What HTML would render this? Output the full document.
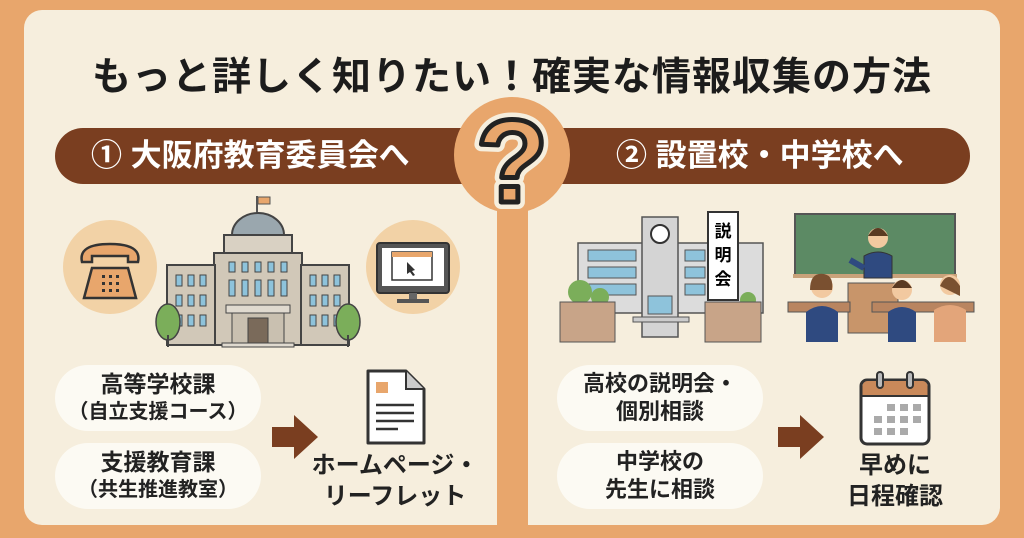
<!DOCTYPE html>
<html><head><meta charset="utf-8"><style>
*{margin:0;padding:0;box-sizing:border-box}
body{width:1024px;height:538px;background:#E8A66C;position:relative;overflow:hidden;font-family:"Liberation Sans","Noto Sans CJK JP",sans-serif;font-weight:bold}
.abs{position:absolute}
.card{left:24px;top:10px;width:976px;height:515px;background:#F6EEDD;border-radius:18px}
.div{left:497px;top:190px;width:31px;height:348px;background:#E8A66C}
.title{left:24px;top:46px;width:976px;text-align:center;font-size:39px;color:#1c1c1c;letter-spacing:1px}
.banner{height:56px;background:#7A3E20;border-radius:28px;color:#fff;font-size:31px;line-height:56px}
.pill{width:206px;height:66px;background:#FCFAF3;border-radius:33px;text-align:center;font-size:22px;color:#222;display:flex;flex-direction:column;justify-content:center;line-height:28px}
.lbl{text-align:center;font-size:24px;color:#222;line-height:31px}
</style></head><body>
<div class="abs card"></div>
<div class="abs div"></div>
<div class="abs title">もっと詳しく知りたい！確実な情報収集の方法</div>
<div class="abs banner" style="left:55px;top:128px;width:440px;padding-left:36px">① 大阪府教育委員会へ</div>
<div class="abs banner" style="left:530px;top:128px;width:440px;padding-left:86px">② 設置校・中学校へ</div>
<svg class="abs" style="left:440px;top:95px" width="150" height="125" viewBox="0 0 150 125">
<circle cx="72" cy="60" r="58" fill="#E8A66C"/>
<text x="72" y="107" text-anchor="middle" font-family="Liberation Sans" font-weight="bold" font-size="118" fill="#F6EEDD" stroke="#F6EEDD" stroke-width="14" stroke-linejoin="round">?</text>
<text x="72" y="107" text-anchor="middle" font-family="Liberation Sans" font-weight="bold" font-size="118" fill="#E8A66C" stroke="#222" stroke-width="5" stroke-linejoin="round">?</text>
</svg>
<svg class="abs" style="left:60px;top:195px" width="410" height="155" viewBox="60 195 410 155">
<circle cx="110" cy="267" r="47" fill="#F2D2A6"/>
<path d="M82 262 q-4-18 28-18 q32 0 28 18 h-10 v-6 h-36 v6z" fill="#E8A66C" stroke="#333" stroke-width="2.5"/>
<path d="M92 268 h36 l8 30 h-52z" fill="#E8A66C" stroke="#333" stroke-width="2.5"/>
<g fill="#333"><rect x="102" y="275" width="3" height="3"/><rect x="109" y="275" width="3" height="3"/><rect x="116" y="275" width="3" height="3"/><rect x="102" y="282" width="3" height="3"/><rect x="109" y="282" width="3" height="3"/><rect x="116" y="282" width="3" height="3"/><rect x="102" y="289" width="3" height="3"/><rect x="109" y="289" width="3" height="3"/><rect x="116" y="289" width="3" height="3"/></g>
<circle cx="413" cy="267" r="47" fill="#F2D2A6"/>
<rect x="377" y="243" width="72" height="50" rx="3" fill="#555" stroke="#333" stroke-width="2"/>
<rect x="382" y="248" width="62" height="38" fill="#fff"/>
<rect x="392" y="252" width="40" height="28" fill="#fff" stroke="#333" stroke-width="1.5"/>
<rect x="392" y="252" width="40" height="5" fill="#E8A66C"/>
<path d="M407 262 l8 8 -3 1 3 4 -2 1 -3-4 -3 2z" fill="#333"/>
<rect x="409" y="293" width="8" height="6" fill="#666"/><rect x="397" y="299" width="32" height="4" fill="#555"/>
<rect x="256" y="196" width="2" height="20" fill="#555"/><rect x="258" y="197" width="12" height="7" fill="#E8A66C" stroke="#555"/>
<path d="M232 235 a26 22 0 0 1 52 0z" fill="#9AA7AE" stroke="#444" stroke-width="2"/>
<rect x="224" y="235" width="68" height="20" fill="#D9D1C3" stroke="#444" stroke-width="2"/>
<rect x="214" y="253" width="88" height="92" fill="#D1C8B8" stroke="#444" stroke-width="2"/>
<rect x="167" y="265" width="48" height="80" fill="#D1C8B8" stroke="#444" stroke-width="2"/>
<rect x="301" y="265" width="48" height="80" fill="#D1C8B8" stroke="#444" stroke-width="2"/>
<g fill="#8EC3DB" stroke="#444" stroke-width="1">
<rect x="176" y="275" width="6" height="11"/><rect x="188" y="275" width="6" height="11"/><rect x="200" y="275" width="6" height="11"/>
<rect x="176" y="295" width="6" height="11"/><rect x="188" y="295" width="6" height="11"/><rect x="200" y="295" width="6" height="11"/>
<rect x="176" y="315" width="6" height="11"/><rect x="188" y="315" width="6" height="11"/><rect x="200" y="315" width="6" height="11"/>
<rect x="310" y="275" width="6" height="11"/><rect x="322" y="275" width="6" height="11"/><rect x="334" y="275" width="6" height="11"/>
<rect x="310" y="295" width="6" height="11"/><rect x="322" y="295" width="6" height="11"/><rect x="334" y="295" width="6" height="11"/>
<rect x="310" y="315" width="6" height="11"/><rect x="322" y="315" width="6" height="11"/><rect x="334" y="315" width="6" height="11"/>
<rect x="229" y="262" width="6" height="10"/><rect x="242" y="262" width="6" height="10"/><rect x="255" y="262" width="6" height="10"/><rect x="268" y="262" width="6" height="10"/><rect x="281" y="262" width="6" height="10"/>
<rect x="229" y="280" width="6" height="16"/><rect x="242" y="280" width="6" height="16"/><rect x="255" y="280" width="6" height="16"/><rect x="268" y="280" width="6" height="16"/><rect x="281" y="280" width="6" height="16"/>
</g>
<rect x="226" y="305" width="64" height="8" fill="#E0DACF" stroke="#444"/>
<rect x="232" y="313" width="52" height="30" fill="#C9C0B0" stroke="#444"/>
<rect x="248" y="318" width="20" height="25" fill="#7A6A5A" stroke="#444"/>
<rect x="222" y="343" width="72" height="4" fill="#E0DACF" stroke="#444"/>
<ellipse cx="168" cy="322" rx="12" ry="18" fill="#7BAE5A" stroke="#444" stroke-width="1.5"/><rect x="167" y="335" width="2" height="12" fill="#444"/>
<ellipse cx="348" cy="322" rx="12" ry="18" fill="#7BAE5A" stroke="#444" stroke-width="1.5"/><rect x="347" y="335" width="2" height="12" fill="#444"/>
</svg>
<svg class="abs" style="left:555px;top:205px" width="425" height="145" viewBox="555 205 425 145">
<rect x="578" y="243" width="185" height="70" fill="#DCDCDC" stroke="#555" stroke-width="1.5"/>
<rect x="642" y="217" width="36" height="120" fill="#D4D4D4" stroke="#555" stroke-width="1.5"/>
<circle cx="660" cy="234" r="9" fill="#fff" stroke="#333" stroke-width="2"/>
<g fill="#8EC3DB" stroke="#555" stroke-width="1"><rect x="588" y="250" width="48" height="11"/><rect x="588" y="267" width="48" height="11"/><rect x="588" y="284" width="48" height="11"/><rect x="685" y="250" width="20" height="11"/><rect x="685" y="267" width="20" height="11"/><rect x="685" y="284" width="20" height="11"/><rect x="648" y="296" width="24" height="18"/></g>
<rect x="708" y="212" width="30" height="88" fill="#fff" stroke="#333" stroke-width="2"/>
<text x="723" y="237" text-anchor="middle" font-size="17" font-weight="bold" font-family="Noto Sans CJK JP">説</text>
<text x="723" y="261" text-anchor="middle" font-size="17" font-weight="bold" font-family="Noto Sans CJK JP">明</text>
<text x="723" y="285" text-anchor="middle" font-size="17" font-weight="bold" font-family="Noto Sans CJK JP">会</text>
<circle cx="580" cy="292" r="12" fill="#7BAE5A"/><circle cx="600" cy="297" r="9" fill="#7BAE5A"/><circle cx="748" cy="300" r="8" fill="#7BAE5A"/>
<rect x="560" y="302" width="55" height="40" fill="#C8A488" stroke="#555"/>
<rect x="705" y="302" width="56" height="40" fill="#C8A488" stroke="#555"/>
<rect x="633" y="317" width="56" height="5" fill="#ccc" stroke="#555"/>
<rect x="795" y="214" width="160" height="62" fill="#5C8A64" stroke="#555" stroke-width="2"/>
<rect x="793" y="274" width="164" height="4" fill="#C9A27A"/>
<circle cx="878" cy="238" r="10" fill="#F2C9A0"/><path d="M868 236 q10-16 20 0z" fill="#5a3a22"/>
<path d="M864 278 v-22 q14-8 28 0 v22z" fill="#2F4A80" stroke="#333"/>
<path d="M850 260 l14 8" stroke="#2F4A80" stroke-width="6"/>
<rect x="848" y="283" width="50" height="50" fill="#C8956A" stroke="#555"/>
<rect x="788" y="302" width="62" height="10" fill="#B98560" stroke="#555"/>
<rect x="872" y="302" width="102" height="10" fill="#B98560" stroke="#555"/>
<circle cx="822" cy="287" r="11" fill="#F2C9A0"/><path d="M810 290 q0-18 14-16 q10 2 8 16z" fill="#7a5030"/>
<path d="M806 342 v-30 q16-12 32 0 v30z" fill="#2F4A80"/>
<circle cx="902" cy="290" r="10" fill="#F2C9A0"/><path d="M892 288 q10-16 20 0z" fill="#5a3a22"/>
<path d="M888 342 v-30 q14-10 28 0 v30z" fill="#2F4A80"/>
<circle cx="950" cy="285" r="10" fill="#F2C9A0"/><path d="M940 286 q8-18 20 0 v10z" fill="#7a5030"/>
<path d="M934 342 v-32 q16-10 32 0 v32z" fill="#E3A57A"/>
</svg>
<div class="abs pill" style="left:55px;top:365px"><div style="font-size:23px">高等学校課</div><div style="font-size:20px">（自立支援コース）</div></div>
<div class="abs pill" style="left:55px;top:443px"><div style="font-size:23px">支援教育課</div><div style="font-size:20px">（共生推進教室）</div></div>
<div class="abs pill" style="left:557px;top:365px"><div>高校の説明会・</div><div>個別相談</div></div>
<div class="abs pill" style="left:557px;top:443px"><div>中学校の</div><div>先生に相談</div></div>
<svg class="abs" style="left:270px;top:413px" width="50" height="50"><path d="M2 14 h22 v-12 l24 22 -24 22 v-12 h-22z" fill="#7A3E20"/></svg>
<svg class="abs" style="left:776px;top:413px" width="50" height="50"><path d="M2 14 h22 v-12 l24 22 -24 22 v-12 h-22z" fill="#7A3E20"/></svg>
<svg class="abs" style="left:362px;top:368px" width="66" height="82">
<path d="M6 3 h38 l18 18 v54 h-56z" fill="#fff" stroke="#333" stroke-width="3" stroke-linejoin="round"/>
<path d="M44 3 v18 h18" fill="#ccc" stroke="#333" stroke-width="2"/>
<rect x="14" y="14" width="12" height="11" fill="#E8A66C"/>
<g stroke="#333" stroke-width="2.5"><line x1="14" y1="37" x2="52" y2="37"/><line x1="14" y1="45" x2="52" y2="45"/><line x1="14" y1="53" x2="52" y2="53"/><line x1="14" y1="61" x2="36" y2="61"/></g>
</svg>
<svg class="abs" style="left:857px;top:370px" width="76" height="80">
<rect x="4" y="10" width="68" height="64" rx="6" fill="#fff" stroke="#333" stroke-width="3"/>
<path d="M5.5 16 a5 5 0 0 1 5-5 h55 a5 5 0 0 1 5 5 v10 h-65z" fill="#C9895A"/>
<line x1="4" y1="26" x2="72" y2="26" stroke="#333" stroke-width="2"/>
<rect x="20" y="2" width="6" height="16" rx="3" fill="#bbb" stroke="#333" stroke-width="2"/><rect x="50" y="2" width="6" height="16" rx="3" fill="#bbb" stroke="#333" stroke-width="2"/>
<g fill="#AAA"><rect x="30" y="34" width="8" height="7"/><rect x="43" y="34" width="8" height="7"/><rect x="56" y="34" width="8" height="7"/><rect x="17" y="46" width="8" height="7"/><rect x="30" y="46" width="8" height="7"/><rect x="43" y="46" width="8" height="7"/><rect x="56" y="46" width="8" height="7"/><rect x="17" y="58" width="8" height="7"/><rect x="30" y="58" width="8" height="7"/><rect x="43" y="58" width="8" height="7"/></g>
</svg>
<div class="abs lbl" style="left:310px;top:450px;width:170px">ホームページ・<br>リーフレット</div>
<div class="abs lbl" style="left:820px;top:450px;width:150px">早めに<br>日程確認</div>
</body></html>
